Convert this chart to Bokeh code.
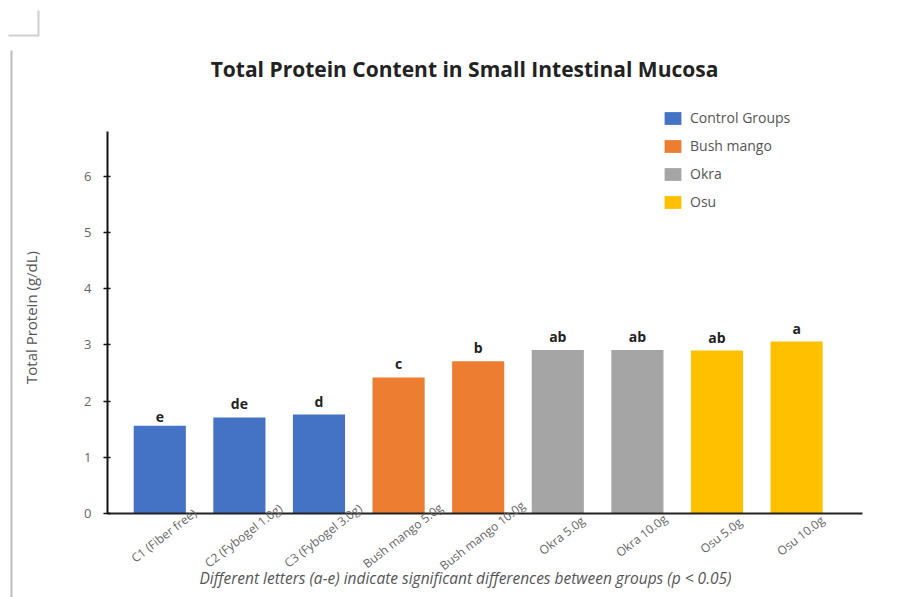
import math
from bokeh.plotting import figure
from bokeh.models import (ColumnDataSource, LabelSet, Label, Legend, LegendItem,
                          BoxAnnotation, FixedTicker, Range1d)
from bokeh.core.properties import value
from bokeh.embed import file_html
from bokeh.resources import INLINE

# Total protein (g/dL) per treatment group, with significance letters
categories = ["C1 (Fiber free)", "C2 (Fybogel 1.0g)", "C3 (Fybogel 3.0g)",
              "Bush mango 5.0g", "Bush mango 10.0g", "Okra 5.0g", "Okra 10.0g",
              "Osu 5.0g", "Osu 10.0g"]
protein = [1.56, 1.71, 1.76, 2.42, 2.71, 2.91, 2.91, 2.90, 3.06]
letters = ["e", "de", "d", "c", "b", "ab", "ab", "ab", "a"]
groups = ["Control Groups", "Control Groups", "Control Groups",
          "Bush mango", "Bush mango", "Okra", "Okra", "Osu", "Osu"]
group_names = ["Control Groups", "Bush mango", "Okra", "Osu"]
group_colors = ["#4472C4", "#ED7D31", "#A5A5A5", "#FFC000"]
y_ticks = [0, 1, 2, 3, 4, 5, 6]

FONT = "Open Sans"
W, H = 914, 597

# the frame spans the whole canvas; axes are pinned inside it
X_AXIS_START, X_AXIS_END = -0.657, 8.828
Y_AXIS_END = 6.797

p = figure(width=W, height=H, output_backend="svg", toolbar_location=None,
           x_range=Range1d(-2.001, 9.481), y_range=Range1d(-1.4947, 9.128),
           min_border=0)
p.title.visible = False
p.outline_line_color = None
p.xgrid.visible = False
p.ygrid.visible = False
p.background_fill_color = "white"
p.border_fill_color = "white"

# y axis
yax = p.yaxis[0]
yax.fixed_location = X_AXIS_START
yax.bounds = (0, Y_AXIS_END)
yax.ticker = FixedTicker(ticks=y_ticks)
yax.axis_line_width = 2
yax.axis_line_color = "#111111"
yax.major_tick_in = 3
yax.major_tick_out = 4
yax.major_tick_line_width = 1.5
yax.major_tick_line_color = "#111111"
yax.minor_tick_line_color = None
yax.major_label_text_font = FONT
yax.major_label_text_font_size = "13px"
yax.major_label_text_color = "#666666"
yax.major_label_standoff = 12

# x axis: plain baseline, category names drawn as rotated labels below
xax = p.xaxis[0]
xax.fixed_location = 0
xax.bounds = (X_AXIS_START, X_AXIS_END)
xax.ticker = FixedTicker(ticks=[])
xax.axis_line_width = 2
xax.axis_line_color = "#222222"
xax.minor_tick_line_color = None
xax.major_tick_line_color = None

idx = list(range(len(categories)))
src = ColumnDataSource(dict(x=idx, top=protein, letter=letters, name=categories))

items = []
for gname, gcolor in zip(group_names, group_colors):
    xs = [i for i in idx if groups[i] == gname]
    tops = [protein[i] for i in xs]
    r = p.vbar(x=xs, top=tops, bottom=0, width=0.655,
               fill_color=gcolor, line_color=None)
    items.append(LegendItem(label=gname, renderers=[r]))

legend = Legend(items=items, location=(662, 386), orientation="vertical",
                glyph_width=21, glyph_height=16, label_height=16, spacing=9,
                label_standoff=7, padding=0, margin=0,
                border_line_alpha=0, background_fill_alpha=0,
                label_text_font=FONT, label_text_font_size="14px",
                label_text_color="#555555")
p.add_layout(legend)

# significance letters above bars
p.add_layout(LabelSet(x="x", y="top", text="letter", source=src, y_offset=4,
                      text_align="center", text_baseline="bottom",
                      text_font=value(FONT), text_font_size=value("14px"),
                      text_font_style="bold", text_color="#222222"))

# rotated category names under the baseline
p.add_layout(LabelSet(x="x", y=0, text="name", source=src, x_offset=4, y_offset=-22,
                      angle=0.66, text_align="center", text_baseline="middle",
                      text_font=value(FONT), text_font_size=value("12px"),
                      text_color="#666666"))

p.add_layout(Label(x=30, y=280, x_units="screen", y_units="screen",
                   text="Total Protein (g/dL)", angle=math.pi / 2,
                   text_align="center", text_baseline="middle",
                   text_font=FONT, text_font_size="15px", text_color="#555555"))

p.add_layout(Label(x=464, y=529, x_units="screen", y_units="screen",
                   text="Total Protein Content in Small Intestinal Mucosa",
                   text_align="center", text_baseline="middle",
                   text_font=FONT, text_font_size="21px", text_font_style="bold",
                   text_color="#222222"))

p.add_layout(Label(x=465, y=20, x_units="screen", y_units="screen",
                   text="Different letters (a-e) indicate significant differences between groups (p < 0.05)",
                   text_align="center", text_baseline="middle",
                   text_font=FONT, text_font_size="15.5px", text_font_style="italic",
                   text_color="#555555"))

# page-edge guide marks
for l, r_, b, t, c in [(10, 12, 0, 547, "#bdbdbd"),
                       (8, 38, 561, 563, "#d0d0d0"),
                       (37, 39, 561, 587, "#d0d0d0")]:
    p.add_layout(BoxAnnotation(left=l, right=r_, bottom=b, top=t,
                               left_units="screen", right_units="screen",
                               bottom_units="screen", top_units="screen",
                               fill_color=c, fill_alpha=1, line_color=None))

open("out.html", "w").write(file_html(p, INLINE))
